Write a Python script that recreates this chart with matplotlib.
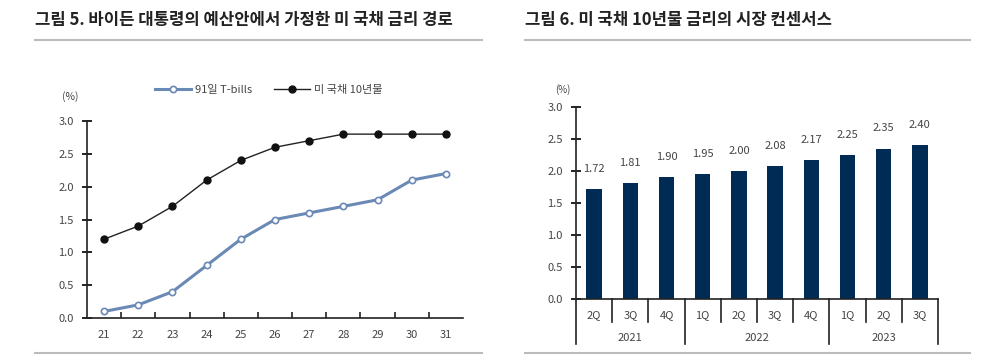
import matplotlib
matplotlib.use("Agg")
from matplotlib import pyplot as plt
from matplotlib.lines import Line2D

plt.rcParams['font.family'] = ['Noto Sans CJK KR', 'DejaVu Sans']

# left chart data
years_short = ["21", "22", "23", "24", "25", "26", "27", "28", "29", "30", "31"]
tbills = [0.1, 0.2, 0.4, 0.8, 1.2, 1.5, 1.6, 1.7, 1.8, 2.1, 2.2]
ust10 = [1.2, 1.4, 1.7, 2.1, 2.4, 2.6, 2.7, 2.8, 2.8, 2.8, 2.8]

# right chart data
quarters = ["2Q", "3Q", "4Q", "1Q", "2Q", "3Q", "4Q", "1Q", "2Q", "3Q"]
quarter_year = ["2021", "2021", "2021", "2022", "2022", "2022", "2022",
                "2023", "2023", "2023"]
consensus = [1.72, 1.81, 1.90, 1.95, 2.00, 2.08, 2.17, 2.25, 2.35, 2.40]

TXT = "#444444"
GRID = "#BBBBBB"
BLUE = "#6A89B5"
NAVY = "#002B55"
W, H = 1000, 356


def px(x, y):
    """pixel position to figure fraction"""
    return x / W, 1 - y / H


def style_axis(ax):
    for s in ["top", "right"]:
        ax.spines[s].set_visible(False)
    for s in ["left", "bottom"]:
        ax.spines[s].set_color("#222222")
        ax.spines[s].set_linewidth(1.2)
    ax.set_ylim(0, 3)
    ax.set_yticks([0, 0.5, 1.0, 1.5, 2.0, 2.5, 3.0])
    ax.set_yticklabels([f"{v:.1f}" for v in ax.get_yticks()])
    ax.tick_params(axis="y", direction="inout", length=7, width=1.2,
                   labelsize=8, labelcolor=TXT, pad=6)


def title_block(fig, x0, x1, text):
    fig.text(*px(x0, 20), text, fontsize=12, fontweight="bold",
             color="#222222", va="center", ha="left")
    for y in (40, 353):
        fig.add_artist(Line2D([x0 / W, x1 / W], [1 - y / H, 1 - y / H],
                              color=GRID, lw=1.5))


def main():
    fig = plt.figure(figsize=(10, 3.56), dpi=100)

    # ---- left: line chart ----
    title_block(fig, 35, 482, "그림 5. 바이든 대통령의 예산안에서 가정한 미 국채 금리 경로")
    l, b = px(87, 318)
    ax1 = fig.add_axes([l, b, 376 / W, 197 / H])
    style_axis(ax1)
    xs = list(range(len(years_short)))
    ax1.plot(xs, tbills, color=BLUE, lw=2.2, marker="o", ms=4.5,
             mfc="white", mec=BLUE, mew=1.2, label="91일 T-bills")
    ax1.plot(xs, ust10, color="#222222", lw=1.0, marker="o", ms=5,
             mfc="#111111", mec="#111111", label="미 국채 10년물")
    ax1.set_xlim(-0.5, len(xs) - 0.5)
    ax1.set_xticks(xs)
    ax1.set_xticklabels(years_short)
    ax1.set_xticks([x + 0.5 for x in xs[:-1]], minor=True)
    ax1.tick_params(axis="x", which="major", length=0, labelsize=8,
                    labelcolor=TXT, pad=9)
    ax1.tick_params(axis="x", which="minor", direction="in", length=4,
                    width=1.2, color="#222222")
    fig.text(*px(70, 97), "(%)", fontsize=7.5, color=TXT, ha="center",
             va="center")
    ax1.legend(loc="lower left", bbox_to_anchor=px(145, 105), ncol=2,
               bbox_transform=fig.transFigure, frameon=False, fontsize=8,
               handlelength=3.2, columnspacing=2.0, handletextpad=0.4,
               labelcolor=TXT)

    # ---- right: bar chart ----
    title_block(fig, 525, 970, "그림 6. 미 국채 10년물 금리의 시장 컨센서스")
    l, b = px(576, 299)
    ax2 = fig.add_axes([l, b, 362 / W, 192 / H])
    style_axis(ax2)
    bx = list(range(len(consensus)))
    ax2.bar(bx, consensus, width=0.42, color=NAVY)
    ax2.set_xlim(-0.5, len(bx) - 0.5)
    ax2.set_xticks([])
    for x, v in zip(bx, consensus):
        ax2.annotate(f"{v:.2f}", (x, v), xytext=(0, 11),
                     textcoords="offset points", ha="center", va="bottom",
                     fontsize=8, color=TXT)
    tr = ax2.get_xaxis_transform()
    q_lo = -18 / 192
    y_lo = -45 / 192
    for x, q in zip(bx, quarters):
        ax2.text(x, -16 / 192, q, transform=tr, ha="center", va="center",
                 fontsize=8, color=TXT)
    edges = [-0.5 + i * 1.0 for i in range(len(bx) + 1)]
    for i, e in enumerate(edges):
        full = (i == 0 or i == len(bx) or
                quarter_year[i - 1] != quarter_year[min(i, len(bx) - 1)])
        ax2.plot([e, e], [0, y_lo if full else q_lo - 5 / 192], transform=tr,
                 color="#222222", lw=1.2, clip_on=False)
    groups = []
    for i, yr in enumerate(quarter_year):
        if not groups or groups[-1][0] != yr:
            groups.append([yr, i, i])
        else:
            groups[-1][2] = i
    for yr, i0, i1 in groups:
        ax2.text((i0 + i1) / 2, -39 / 192, yr, transform=tr, ha="center",
                 va="center", fontsize=8, color=TXT)
    fig.text(*px(563, 90), "(%)", fontsize=7, color=TXT, ha="center",
             va="center")

    fig.savefig("out.png", dpi=100)


if __name__ == "__main__":
    main()
